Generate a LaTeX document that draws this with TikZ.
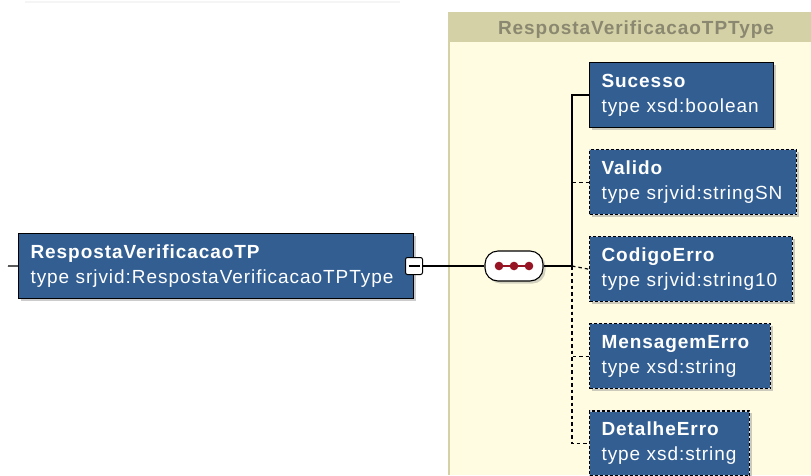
\documentclass[tikz,border=0pt]{standalone}
\usepackage{fontspec}
\newfontfamily\xsdfont[LetterSpace=5]{Liberation Sans}
\usepackage{tikz}
\usetikzlibrary{positioning,shapes,shadows,calc}

\definecolor{elblue}{RGB}{50,94,146}
\definecolor{ctbody}{RGB}{255,252,225}
\definecolor{cthead}{RGB}{213,209,166}
\definecolor{cttext}{RGB}{138,136,112}
\definecolor{seqred}{RGB}{150,20,35}

\tikzset{
	elbox/.style={rectangle, draw=black, fill=elblue, text=white, align=left,
		line width=1.1pt, inner xsep=12pt, inner ysep=0pt, minimum height=65pt,
		font=\xsdfont\fontsize{19}{25}\selectfont,
		drop shadow={opacity=0.4, shadow xshift=2.5pt, shadow yshift=-2.5pt}},
	optbox/.style={elbox, draw=white!80!elblue,
		postaction={draw=black, dash pattern=on 3pt off 2pt}},
	conn/.style={draw=black, line width=1.2pt},
	optconn/.style={conn, dash pattern=on 3.5pt off 3pt}
}

\begin{document}
\begin{tikzpicture}[x=1pt,y=-1pt]
	\useasboundingbox (0,0) rectangle (811,475);
	% faint trace at the top
	\draw[black!4, line width=2pt] (25,2) -- (400,2);
	% complex type container
	\fill[ctbody] (448,12) rectangle (811,475);
	\fill[cthead] (448,12) rectangle (811,42);
	\draw[cthead, line width=1.5pt] (448.75,42) -- (448.75,475);
	\node[font=\xsdfont\bfseries\fontsize{19}{22}\selectfont, text=cttext] (cttitle) at (636,30) {RespostaVerificacaoTPType};

	% root element
	\node[elbox, anchor=north west, text width=371pt] (resp) at (18,233)
		{\textbf{RespostaVerificacaoTP}\\type srjvid:RespostaVerificacaoTPType};
	\coordinate (in) at (8,266);
	\node[rectangle, draw=black, fill=white, rounded corners=2pt, minimum size=17pt, inner sep=0pt,
		line width=1pt,
		path picture={\draw[line width=1.2pt] ([xshift=3pt]path picture bounding box.west) -- ([xshift=-3pt]path picture bounding box.east);}]
		(minus) at (414,266) {};

	% sequence compositor
	\node[rectangle, draw=black, fill=white, rounded corners=13pt, minimum width=58pt, minimum height=30pt,
		line width=1.1pt, drop shadow={opacity=0.35, shadow xshift=2.5pt, shadow yshift=-2.5pt}]
		(seq) at (514,266) {};
	\draw[seqred, line width=1.4pt] ([xshift=-15pt]seq.center) -- ([xshift=15pt]seq.center);
	\foreach \dx in {-15,0,15}
		\fill[seqred] ([xshift=\dx pt]seq.center) circle (4.3pt);
	\coordinate (bar) at (572,266);

	% child elements
	\node[elbox, anchor=north west, text width=160pt] (sucesso) at (589,62)
		{\textbf{Sucesso}\\type xsd:boolean};
	\node[optbox, below right=21pt and 0pt of sucesso.south west, text width=183pt] (valido)
		{\textbf{Valido}\\type srjvid:stringSN};
	\node[optbox, below right=21pt and 0pt of valido.south west, text width=179pt] (codigo)
		{\textbf{CodigoErro}\\type srjvid:string10};
	\node[optbox, below right=21pt and 0pt of codigo.south west, text width=157pt] (mensagem)
		{\textbf{MensagemErro}\\type xsd:string};
	\node[optbox, below right=21pt and 0pt of mensagem.south west, text width=136pt] (detalhe)
		{\textbf{DetalheErro}\\type xsd:string};

	% connectors
	\draw[conn] (in) -- (resp.west);
	\draw[conn] (minus.east) -- (seq.west);
	\draw[conn] (seq.east) -- (bar) |- (sucesso.west);
	\draw[optconn] (bar) |- (valido.west);
	\draw[optconn] (bar) -- (codigo.west);
	\draw[optconn] (bar) |- (mensagem.west);
	\draw[optconn] (bar) |- (detalhe.west);
\end{tikzpicture}
\end{document}
